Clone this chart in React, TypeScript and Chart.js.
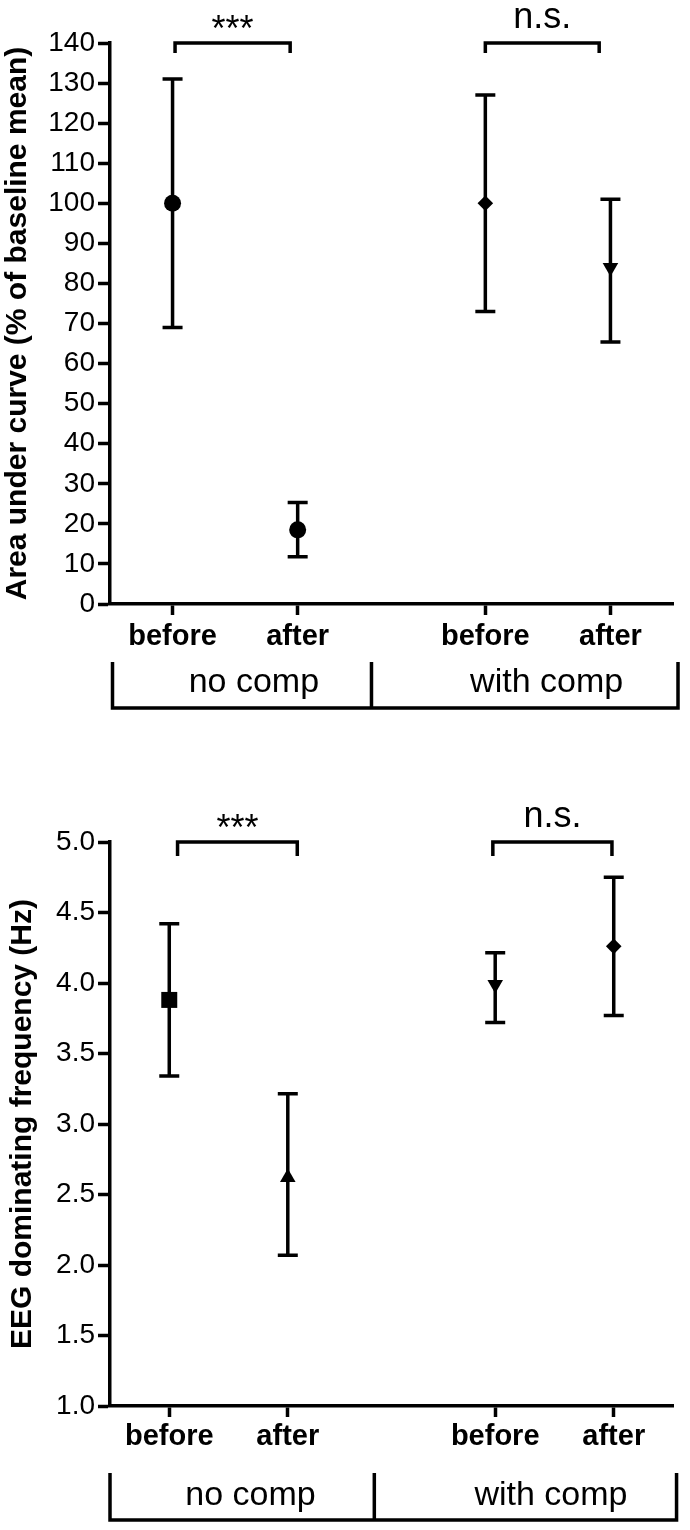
import React, { useEffect, useRef } from 'react';
import { Chart, registerables } from 'chart.js';

Chart.register(...registerables);

// ---------- shared labels ----------
const conditionLabels = ['before', 'after', 'before', 'after'];
const groupLabels = ['no comp', 'with comp'];

// ---------- chart A: area under curve ----------
const aucTitle = 'Area under curve (% of baseline mean)';
const aucPositions = [1, 2, 3.5, 4.5];
const aucMean = [100, 18.5, 100, 84];
const aucUpper = [131, 25.3, 127, 101];
const aucLower = [69, 11.8, 73, 65.4];
const aucMarkers = ['circle', 'circle', 'rectRot', 'triangle'];
const aucRotation = [0, 0, 0, 180];
const aucRadius = [8.5, 8.5, 7.8, 9];
const aucYMin = 0;
const aucYMax = 140;
const aucYStep = 10;
const aucSigLevel = 140;
const aucSigFrom = [1.02, 3.5];
const aucSigTo = [1.94, 4.41];
const aucSigText = ['***', 'n.s.'];
const aucGroupBounds = [0.52, 2.59, 5.04];
const aucGroupLabelPos = [1.65, 3.99];

// ---------- chart B: EEG dominating frequency ----------
const eegTitle = 'EEG dominating frequency (Hz)';
const eegPositions = [1, 2, 3.75, 4.75];
const eegMean = [3.88, 2.62, 3.99, 4.26];
const eegUpper = [4.42, 3.215, 4.215, 4.75];
const eegLower = [3.34, 2.07, 3.72, 3.77];
const eegMarkers = ['rect', 'triangle', 'triangle', 'rectRot'];
const eegRotation = [0, 0, 180, 0];
const eegRadius = [11.3, 9, 9, 7.8];
const eegYMin = 1;
const eegYMax = 5;
const eegYStep = 0.5;
const eegSigLevel = 5;
const eegSigFrom = [1.07, 3.73];
const eegSigTo = [2.08, 4.735];
const eegSigText = ['***', 'n.s.'];
const eegGroupBounds = [0.5, 2.73, 5.28];
const eegGroupLabelPos = [1.685, 4.22];

const FONT = "'Liberation Sans', Arial, Helvetica, sans-serif";
const LW = 3.5;

type Cfg = {
  title: string;
  positions: number[];
  mean: number[];
  upper: number[];
  lower: number[];
  markers: string[];
  rotation: number[];
  radius: number[];
  yMin: number;
  yMax: number;
  yStep: number;
  decimals: number;
  xMin: number;
  xMax: number;
  sigLevel: number;
  sigFrom: number[];
  sigTo: number[];
  sigText: string[];
  groupBounds: number[];
  groupLabelPos: number[];
  width: number;
  height: number;
  padTop: number;
  padRight: number;
  xAxisHeight: number;
  xLabelPad: number;
  titlePad: number;
  sigDrop: number;
  groupTop: number;
  groupBottom: number;
  groupText: number;
};

function makePlugin(cfg: Cfg) {
  return {
    id: 'customMarks',
    beforeDatasetsDraw(chart: any) {
      const { ctx } = chart;
      const x = chart.scales.x;
      const y = chart.scales.y;
      const cap = 10;
      ctx.save();
      ctx.strokeStyle = '#000';
      ctx.lineWidth = LW;
      ctx.lineCap = 'butt';
      cfg.positions.forEach((p, i) => {
        const px = x.getPixelForValue(p);
        const yu = y.getPixelForValue(cfg.upper[i]);
        const yl = y.getPixelForValue(cfg.lower[i]);
        ctx.beginPath();
        ctx.moveTo(px, yu);
        ctx.lineTo(px, yl);
        ctx.moveTo(px - cap, yu);
        ctx.lineTo(px + cap, yu);
        ctx.moveTo(px - cap, yl);
        ctx.lineTo(px + cap, yl);
        ctx.stroke();
      });
      ctx.restore();
    },
    afterDraw(chart: any) {
      const { ctx, chartArea } = chart;
      const x = chart.scales.x;
      const y = chart.scales.y;
      ctx.save();
      ctx.strokeStyle = '#000';
      ctx.fillStyle = '#000';
      ctx.lineWidth = LW;
      ctx.lineCap = 'butt';
      ctx.lineJoin = 'miter';
      const by = y.getPixelForValue(cfg.sigLevel);
      cfg.sigFrom.forEach((f, i) => {
        const x1 = x.getPixelForValue(f);
        const x2 = x.getPixelForValue(cfg.sigTo[i]);
        ctx.beginPath();
        ctx.moveTo(x1, by + cfg.sigDrop);
        ctx.lineTo(x1, by);
        ctx.lineTo(x2, by);
        ctx.lineTo(x2, by + cfg.sigDrop);
        ctx.stroke();
        const label = cfg.sigText[i];
        ctx.textAlign = 'center';
        ctx.textBaseline = 'alphabetic';
        ctx.font = `36px ${FONT}`;
        ctx.fillText(label, (x1 + x2) / 2, label === '***' ? by - 2 : by - 15);
      });
      const gTop = chartArea.bottom + cfg.groupTop;
      const gBot = chartArea.bottom + cfg.groupBottom;
      const gx = cfg.groupBounds.map((v) => x.getPixelForValue(v));
      ctx.beginPath();
      gx.forEach((px) => {
        ctx.moveTo(px, gTop);
        ctx.lineTo(px, gBot);
      });
      ctx.moveTo(gx[0] - LW / 2, gBot);
      ctx.lineTo(gx[gx.length - 1] + LW / 2, gBot);
      ctx.stroke();
      ctx.font = `34px ${FONT}`;
      ctx.textAlign = 'center';
      ctx.textBaseline = 'alphabetic';
      cfg.groupLabelPos.forEach((v, i) => {
        ctx.fillText(groupLabels[i], x.getPixelForValue(v), chartArea.bottom + cfg.groupText);
      });
      ctx.restore();
    },
  };
}

function ErrorChart({ cfg }: { cfg: Cfg }) {
  const ref = useRef<HTMLCanvasElement | null>(null);
  useEffect(() => {
    if (!ref.current) return;
    const chart = new Chart(ref.current, {
      type: 'scatter',
      data: {
        datasets: [
          {
            data: cfg.positions.map((p, i) => ({ x: p, y: cfg.mean[i] })),
            pointStyle: cfg.markers as any,
            rotation: cfg.rotation,
            pointRadius: cfg.radius,
            backgroundColor: '#000',
            borderColor: '#000',
            borderWidth: 0,
            showLine: false,
          } as any,
        ],
      },
      plugins: [makePlugin(cfg) as any],
      options: {
        animation: false,
        responsive: false,
        events: [],
        layout: { padding: { top: cfg.padTop, right: cfg.padRight, left: 0, bottom: 0 } },
        plugins: { legend: { display: false }, tooltip: { enabled: false } },
        scales: {
          x: {
            type: 'linear',
            min: cfg.xMin,
            max: cfg.xMax,
            afterBuildTicks: (s: any) => {
              s.ticks = cfg.positions.map((v) => ({ value: v }));
            },
            afterFit: (s: any) => {
              s.height = cfg.xAxisHeight;
            },
            ticks: {
              autoSkip: false,
              maxRotation: 0,
              padding: cfg.xLabelPad,
              color: '#000',
              font: { family: FONT, size: 29, weight: 'bold' },
              callback: (_v: any, i: number) => conditionLabels[i],
            },
            grid: {
              drawOnChartArea: false,
              drawTicks: true,
              tickLength: 11,
              tickWidth: LW,
              tickColor: '#000',
            },
            border: { display: true, color: '#000', width: LW },
          },
          y: {
            type: 'linear',
            min: cfg.yMin,
            max: cfg.yMax,
            afterFit: (s: any) => {
              s.width = 110;
            },
            ticks: {
              stepSize: cfg.yStep,
              padding: 3,
              color: '#000',
              font: { family: FONT, size: 28 },
              callback: (v: any) => Number(v).toFixed(cfg.decimals),
            },
            grid: {
              drawOnChartArea: false,
              drawTicks: true,
              tickLength: 12,
              tickWidth: LW,
              tickColor: '#000',
            },
            border: { display: true, color: '#000', width: LW },
            title: {
              display: true,
              text: cfg.title,
              color: '#000',
              font: { family: FONT, size: 30, weight: 'bold' },
              padding: { top: cfg.titlePad, bottom: 0 },
            },
          },
        },
      } as any,
    });
    return () => chart.destroy();
  }, [cfg]);
  return <canvas ref={ref} width={cfg.width} height={cfg.height} style={{ display: 'block' }} />;
}

const cfgA: Cfg = {
  title: aucTitle,
  positions: aucPositions,
  mean: aucMean,
  upper: aucUpper,
  lower: aucLower,
  markers: aucMarkers,
  rotation: aucRotation,
  radius: aucRadius,
  yMin: aucYMin,
  yMax: aucYMax,
  yStep: aucYStep,
  decimals: 0,
  xMin: 0.5,
  xMax: 5.0,
  sigLevel: aucSigLevel,
  sigFrom: aucSigFrom,
  sigTo: aucSigTo,
  sigText: aucSigText,
  groupBounds: aucGroupBounds,
  groupLabelPos: aucGroupLabelPos,
  width: 690,
  height: 740,
  padTop: 43,
  padRight: 17,
  xAxisHeight: 136,
  xLabelPad: 5,
  titlePad: 0,
  sigDrop: 10,
  groupTop: 58,
  groupBottom: 104,
  groupText: 88,
};

const cfgB: Cfg = {
  title: eegTitle,
  positions: eegPositions,
  mean: eegMean,
  upper: eegUpper,
  lower: eegLower,
  markers: eegMarkers,
  rotation: eegRotation,
  radius: eegRadius,
  yMin: eegYMin,
  yMax: eegYMax,
  yStep: eegYStep,
  decimals: 1,
  xMin: 0.5,
  xMax: 5.25,
  sigLevel: eegSigLevel,
  sigFrom: eegSigFrom,
  sigTo: eegSigTo,
  sigText: eegSigText,
  groupBounds: eegGroupBounds,
  groupLabelPos: eegGroupLabelPos,
  width: 690,
  height: 790,
  padTop: 102,
  padRight: 17,
  xAxisHeight: 124,
  xLabelPad: 3,
  titlePad: 5,
  sigDrop: 14,
  groupTop: 67,
  groupBottom: 114,
  groupText: 99,
};

export default function App() {
  return (
    <div style={{ position: 'absolute', left: 0, top: 0, width: 690, height: 1530, background: '#fff' }}>
      <ErrorChart cfg={cfgA} />
      <ErrorChart cfg={cfgB} />
    </div>
  );
}
